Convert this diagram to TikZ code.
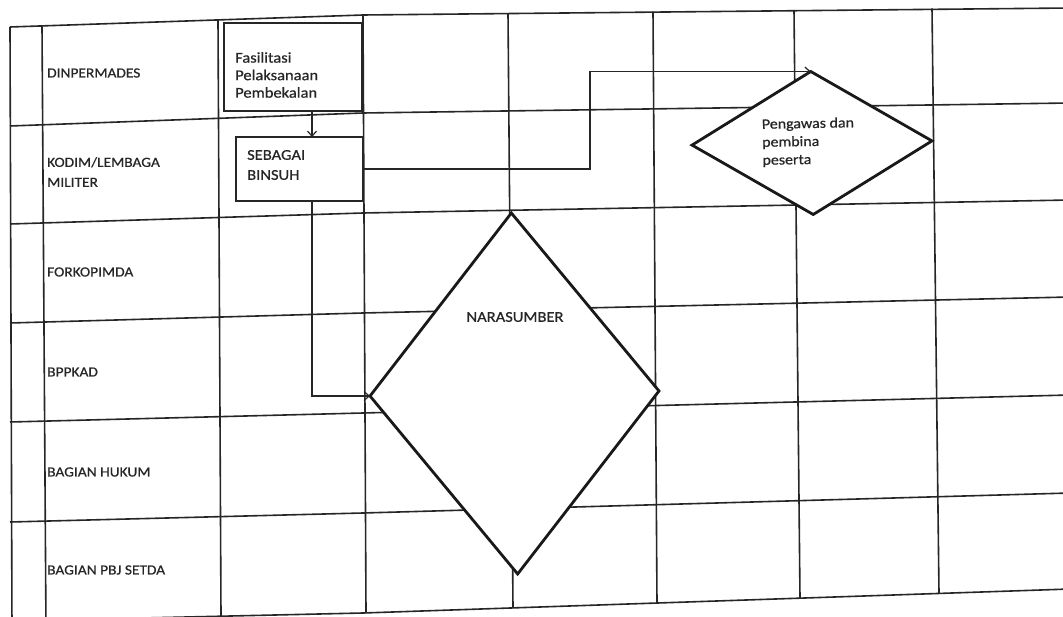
\documentclass[tikz,border=0pt]{standalone}
\usepackage{fontspec}
\setmainfont{Carlito}[FakeStretch=1.1,FakeBold=0.6]
\usetikzlibrary{shapes.geometric,arrows.meta}
\begin{document}
\begin{tikzpicture}[x=1pt,y=-1pt,
  grid/.style={line width=1.6pt, black!85},
  box/.style={draw=black!85, fill=white, line width=1.7pt, inner sep=0pt, outer sep=0pt},
  dia/.style={diamond, draw=black!90, fill=white, line width=2.8pt, inner sep=0pt, outer sep=0pt},
  lane/.style={font=\fontsize{14}{20}\selectfont, text=black!85, anchor=west, align=left, inner sep=0pt},
  txt/.style={font=\fontsize{15}{17.5}\selectfont, text=black!85, align=left, inner sep=0pt},
  conn/.style={draw=black!85, line width=1.2pt, -{Straight Barb[length=5pt,width=9pt]}},
]
\clip (0,0) rectangle (1063,617);
\fill[white] (0,0) rectangle (1063,617);
% horizontal lines of the table
\draw[grid] (10,27) -- (363,15) -- (1070,8);
\draw[grid] (10,126) -- (363,113) -- (1070,103);
\draw[grid] (10,224) -- (363,213) -- (1070,200);
\draw[grid] (10,323) -- (363,313) -- (1070,297);
\draw[grid] (10,422) -- (363,413) -- (1070,395);
\draw[grid] (10,522) -- (363,513) -- (1070,493);
\draw[grid] (10,621) -- (363,613) -- (1070,589);
% vertical lines of the table
\draw[grid] (10,27) -- (12,630);
\draw[grid] (42,26) -- (46,630);
\draw[grid] (218,20) -- (221,616);
\draw[grid] (363,15) -- (366,613);
\draw[grid] (508,13.3) -- (513,608);
\draw[grid] (653,11.7) -- (657,603);
\draw[grid] (794,10.1) -- (800,598);
\draw[grid] (932,8.5) -- (939,593.3);
% lane labels
\node[lane] (l1) at (47,73) {DINPERMADES};
\node[lane] (l2) at (47,172) {KODIM/LEMBAGA\\MILITER};
\node[lane] (l3) at (47,272) {FORKOPIMDA};
\node[lane] (l4) at (47,372) {BPPKAD};
\node[lane] (l5) at (47,472) {BAGIAN HUKUM};
\node[lane] (l6) at (47,570) {BAGIAN PBJ SETDA};
% process boxes
\node[box, minimum width=138pt, minimum height=88pt, anchor=north west] (fas) at (224,23) {};
\node[txt, anchor=west] (fastxt) at ([xshift=11pt,yshift=-8pt]fas.west) {Fasilitasi\\Pelaksanaan\\Pembekalan};
\node[box, minimum width=127pt, minimum height=64pt, anchor=north west] (seb) at (236,137) {};
\node[txt, anchor=west, font=\fontsize{15}{20}\selectfont] (sebtxt) at ([xshift=11pt,yshift=4pt]seb.west) {SEBAGAI\\BINSUH};
% decisions
\node[dia, minimum width=289pt, minimum height=361pt, rotate=1] (nara) at (514.5,393.5) {};
\node[txt] (naratxt) at (515,317) {NARASUMBER};
\node[dia, minimum width=240pt, minimum height=143pt, rotate=1] (peng) at (812,143) {};
\node[txt, anchor=west, font=\fontsize{14.5}{18}\selectfont, rotate=1] (pengtxt) at (762,143) {Pengawas dan\\pembina\\peserta};
% connectors
\coordinate (ax) at (312,0);
\coordinate (jx) at (590,0);
\draw[conn] (fas.south -| ax) -- (seb.north -| ax);
\draw[conn] (seb.east) -- (seb.east -| jx) -- (jx |- peng.north) -- (peng.north);
\draw[conn] (seb.south -| ax) -- (ax |- nara.west) -- (nara.west);
\end{tikzpicture}
\end{document}
